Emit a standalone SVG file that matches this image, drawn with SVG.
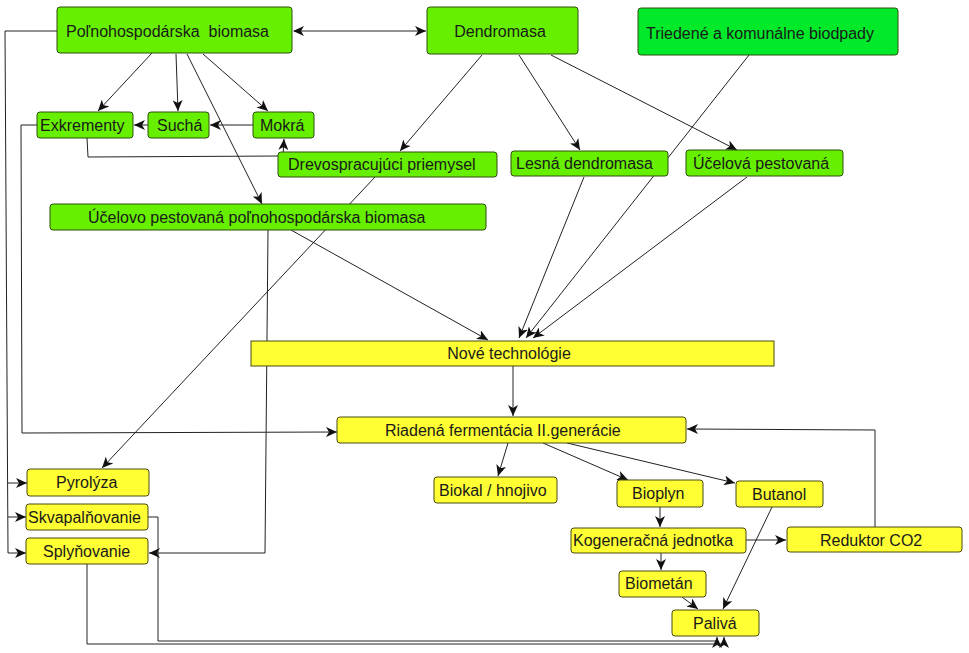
<svg xmlns="http://www.w3.org/2000/svg" width="969" height="653" viewBox="0 0 969 653">
<style>
.g{fill:#66f000;stroke:#2f4f10;stroke-width:1}
.g2{fill:#00ea2a;stroke:#2f4f10;stroke-width:1}
.y{fill:#ffff33;stroke:#4a4a10;stroke-width:1}
text{font-family:"Liberation Sans",Arial,sans-serif;font-size:16px;fill:#1a1a1a}
.c path{fill:none;stroke:#222;stroke-width:1}
</style>
<defs>
<marker id="a" markerWidth="12" markerHeight="10" refX="11" refY="5" orient="auto" markerUnits="userSpaceOnUse">
<path d="M0,0 L11,5 L0,10 L3,5 z" fill="#111"/>
</marker>
<marker id="s" markerWidth="12" markerHeight="10" refX="1" refY="5" orient="auto" markerUnits="userSpaceOnUse">
<path d="M11,0 L0,5 L11,10 L8,5 z" fill="#111"/>
</marker>
</defs>
<g class="c" id="connectors">
<path d="M294,31 L426,31" marker-start="url(#s)" marker-end="url(#a)"/>
<path d="M152,53 L98,111" marker-end="url(#a)"/>
<path d="M176,54 L178,111" marker-end="url(#a)"/>
<path d="M203,54 L268,111" marker-end="url(#a)"/>
<path d="M187,54 L262,204" marker-end="url(#a)"/>
<path d="M253,125 L210,125" marker-end="url(#a)"/>
<path d="M148,125 L134,125" marker-end="url(#a)"/>
<path d="M87,138 L88,157 L283,156 L284,139" marker-end="url(#a)"/>
<path d="M482,55 L400,151" marker-end="url(#a)"/>
<path d="M519,55 L580,150" marker-end="url(#a)"/>
<path d="M551,55 L737,150" marker-end="url(#a)"/>
<path d="M584,177 L519,338" marker-end="url(#a)"/>
<path d="M749,55 L526,338" marker-end="url(#a)"/>
<path d="M747,177 L533,338" marker-end="url(#a)"/>
<path d="M291,230 L488,340" marker-end="url(#a)"/>
<path d="M375,177 L102,468" marker-end="url(#a)"/>
<path d="M268,230 L265,553 L149,553" marker-end="url(#a)"/>
<path d="M57,31 L5,31 L8,553 L26,553" marker-end="url(#a)"/>
<path d="M8,483 L27,483" marker-end="url(#a)"/>
<path d="M8,517 L26,517" marker-end="url(#a)"/>
<path d="M37,125 L21,125 L22,433 L337,432" marker-end="url(#a)"/>
<path d="M513,366 L513,416" marker-end="url(#a)"/>
<path d="M508,443 L498,476" marker-end="url(#a)"/>
<path d="M543,443 L628,480" marker-end="url(#a)"/>
<path d="M567,443 L735,483" marker-end="url(#a)"/>
<path d="M660,507 L660,527" marker-end="url(#a)"/>
<path d="M661,553 L661,570" marker-end="url(#a)"/>
<path d="M746,540 L786,540" marker-end="url(#a)"/>
<path d="M682,597 L698,609" marker-end="url(#a)"/>
<path d="M772,507 L723,609" marker-end="url(#a)"/>
<path d="M875,527 L875,430 L687,429" marker-end="url(#a)"/>
<path d="M148,517 L158,517 L158,641 L717,641 L717,637" marker-end="url(#a)"/>
<path d="M87,564 L87,644 L724,644 L724,637" marker-end="url(#a)"/>
</g>
<g id="n-polno"><rect class="g" x="57" y="7" width="235" height="46" rx="3"/><text x="66" y="37" xml:space="preserve">Poľnohospodárska  biomasa</text></g>
<g id="n-dendro"><rect class="g" x="427" y="7" width="151" height="47" rx="3"/><text x="500" y="37" text-anchor="middle">Dendromasa</text></g>
<g id="n-triedene"><rect class="g2" x="638" y="8" width="260" height="47" rx="3"/><text x="646" y="39">Triedené a komunálne biodpady</text></g>
<g id="n-exkrementy"><rect class="g" x="37" y="112" width="96" height="26" rx="3"/><text x="40" y="131">Exkrementy</text></g>
<g id="n-sucha"><rect class="g" x="148" y="112" width="61" height="26" rx="3"/><text x="157" y="131">Suchá</text></g>
<g id="n-mokra"><rect class="g" x="253" y="112" width="61" height="26" rx="3"/><text x="260" y="131">Mokrá</text></g>
<g id="n-drevo"><rect class="g" x="278" y="152" width="219" height="25" rx="3"/><text x="288" y="170">Drevospracujúci priemysel</text></g>
<g id="n-lesna"><rect class="g" x="511" y="151" width="157" height="25" rx="3"/><text x="516" y="169">Lesná dendromasa</text></g>
<g id="n-ucelova"><rect class="g" x="686" y="150" width="157" height="26" rx="3"/><text x="693" y="169">Účelová pestovaná</text></g>
<g id="n-ucelovo"><rect class="g" x="50" y="204" width="436" height="26" rx="3"/><text x="88" y="223">Účelovo pestovaná poľnohospodárska biomasa</text></g>
<g id="n-nove"><rect class="y" x="251" y="341" width="523" height="25"/><text x="509" y="359" text-anchor="middle">Nové technológie</text></g>
<g id="n-riadena"><rect class="y" x="337" y="417" width="349" height="26" rx="3"/><text x="385" y="436">Riadená fermentácia II.generácie</text></g>
<g id="n-biokal"><rect class="y" x="434" y="477" width="123" height="26" rx="3"/><text x="439" y="496">Biokal / hnojivo</text></g>
<g id="n-bioplyn"><rect class="y" x="617" y="480" width="86" height="27" rx="3"/><text x="632" y="499">Bioplyn</text></g>
<g id="n-butanol"><rect class="y" x="736" y="481" width="87" height="26" rx="3"/><text x="752" y="500">Butanol</text></g>
<g id="n-kog"><rect class="y" x="571" y="528" width="175" height="25" rx="3"/><text x="573" y="546">Kogeneračná jednotka</text></g>
<g id="n-reduktor"><rect class="y" x="787" y="527" width="175" height="25" rx="3"/><text x="820" y="546">Reduktor CO2</text></g>
<g id="n-biometan"><rect class="y" x="619" y="571" width="87" height="26" rx="3"/><text x="625" y="589">Biometán</text></g>
<g id="n-paliva"><rect class="y" x="672" y="610" width="87" height="26" rx="3"/><text x="693" y="629">Palivá</text></g>
<g id="n-pyrolyza"><rect class="y" x="27" y="469" width="122" height="27" rx="3"/><text x="56" y="488">Pyrolýza</text></g>
<g id="n-skvap"><rect class="y" x="26" y="504" width="122" height="26" rx="3"/><text x="28" y="523">Skvapalňovanie</text></g>
<g id="n-splyn"><rect class="y" x="26" y="538" width="122" height="26" rx="3"/><text x="43" y="557">Splyňovanie</text></g>
</svg>
